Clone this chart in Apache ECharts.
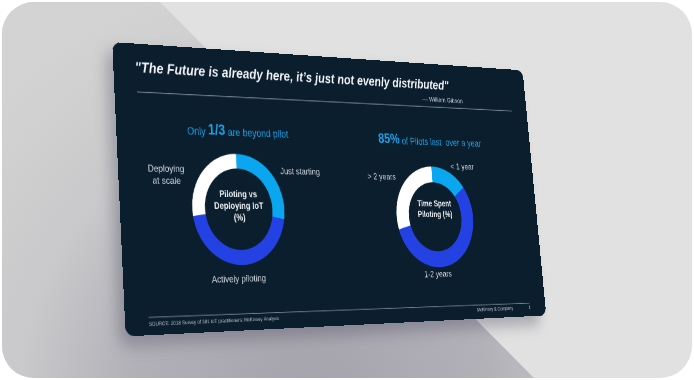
<!DOCTYPE html>
<html>
<head>
<meta charset="utf-8">
<script src="https://cdn.jsdelivr.net/npm/echarts@6.0.0/dist/echarts.min.js"></script>
<style>
  html, body { margin:0; padding:0; width:694px; height:380px; overflow:hidden; background:#ffffff; }
  #frame { position:absolute; left:2px; top:2px; width:690px; height:376px; border-radius:32px; overflow:hidden; background:#e1e1e1; }
  #shade { position:absolute; left:-2px; top:-2px; width:694px; height:380px;
           clip-path: polygon(0 0, 158px 0, 536px 380px, 0 380px);
           background: radial-gradient(circle at 310px 400px, #a4a2ac 0px, #b2b1b8 180px, #c9c9cb 290px, #d3d3d3 430px); }
  #slideShadow, #slide { position:absolute; left:0; top:0; width:700px; height:360px; transform-origin:0 0; border-radius:12px; }
  #slideShadow { background:rgba(60,60,80,0.35); filter:blur(10px); }
  #slide { background:#0b1e2e; overflow:hidden; }
</style>
</head>
<body>
<div id="frame"><div id="shade"></div></div>
<div id="slideShadow"></div>
<div id="slide"></div>
<script>
// ---- data ----
const titleText = '"The Future is already here, it\u2019s just not evenly distributed"';
const quoteAuthor = '\u2014 William Gibson';
const leftHeadline = ['Only ', '1/3', ' are beyond pilot'];
const rightHeadline = ['85%', ' of Pilots last  over a year'];
const leftCenterText = 'Piloting vs\nDeploying IoT\n(%)';
const rightCenterText = 'Time Spent\nPiloting (%)';
const leftCategories = ['Just starting', 'Actively piloting', 'Deploying\nat scale'];
const leftValues = [28, 45, 27];
const rightCategories = ['< 1 year', '1-2 years', '> 2 years'];
const rightValues = [15, 56, 29];
const sourceText = 'SOURCE: 2018 Survey of 381 IoT practitioners; McKinsey Analysis';
const brandText = 'McKinsey & Company';
const pageText = '1';

// ---- layout / style ----
const W = 700, H = 360;
const FONT = '"Liberation Sans", Arial, Helvetica, sans-serif';
const pieColors = ['#0aa7f0', '#2441e3', '#ffffff'];
const slideCorners = [[112.2, 42.0], [522.5, 70.3], [546.3, 315.4], [125.7, 336.4]];

function quadMatrix(p, w, h) {
  const [x0, y0] = p[0], [x1, y1] = p[1], [x2, y2] = p[2], [x3, y3] = p[3];
  const dx1 = x1 - x2, dy1 = y1 - y2, dx2 = x3 - x2, dy2 = y3 - y2;
  const dx3 = x0 - x1 + x2 - x3, dy3 = y0 - y1 + y2 - y3;
  const den = dx1 * dy2 - dx2 * dy1;
  const g = (dx3 * dy2 - dx2 * dy3) / den, hh = (dx1 * dy3 - dx3 * dy1) / den;
  const a = x1 - x0 + g * x1, b = x3 - x0 + hh * x3, c = x0;
  const d = y1 - y0 + g * y1, e = y3 - y0 + hh * y3, f = y0;
  return 'matrix3d(' + [a / w, d / w, 0, g / w, b / h, e / h, 0, hh / h, 0, 0, 1, 0, c, f, 0, 1].join(',') + ')';
}
document.getElementById('slide').style.transform = quadMatrix(slideCorners, W, H);
document.getElementById('slideShadow').style.transform = quadMatrix(slideCorners.map(([x, y]) => [x - 6, y + 9]), W, H);

const leftLabelPos = [
  { x: 244, y: 158, align: 'left' },
  { x: 169, y: 296, align: 'center' },
  { x: 69, y: 165, align: 'center' }
];
const rightLabelPos = [
  { x: 541, y: 147, align: 'left' },
  { x: 501, y: 297, align: 'center' },
  { x: 439, y: 163, align: 'right' }
];

function pieSeries(name, cats, vals, center, radius, pos) {
  return {
    type: 'pie', name: name, center: center, radius: radius,
    startAngle: 90, clockwise: true, silent: true, avoidLabelOverlap: false,
    itemStyle: { borderWidth: 0 },
    label: { show: true, position: 'outside', color: '#d3d8dd', fontSize: 12, lineHeight: 15, fontFamily: FONT },
    labelLine: { show: false },
    labelLayout: function (p) {
      const q = pos[p.dataIndex];
      return { x: q.x, y: q.y, align: q.align, verticalAlign: 'middle' };
    },
    emphasis: { disabled: true },
    data: cats.map((c, i) => ({ name: c, value: vals[i], itemStyle: { color: pieColors[i] } }))
  };
}

const chart = echarts.init(document.getElementById('slide'), null, { renderer: 'canvas', devicePixelRatio: 2, width: W, height: H });
chart.setOption({
  animation: false,
  backgroundColor: 'transparent',
  series: [
    pieSeries('Piloting vs Deploying IoT', leftCategories, leftValues, [175.4, 207.2], [52, 71], leftLabelPos),
    pieSeries('Time Spent Piloting', rightCategories, rightValues, [505, 217.3], [48, 70], rightLabelPos)
  ],
  graphic: [
    { type: 'text', x: 31, y: 31.5, style: { text: titleText, fill: '#f2f4f6', fontSize: 18.5, fontWeight: 'bold', fontStyle: 'italic', fontFamily: FONT, align: 'left', verticalAlign: 'middle' } },
    { type: 'line', shape: { x1: 32, y1: 61.5, x2: 670, y2: 62.5 }, style: { stroke: '#75838f', lineWidth: 1.2 } },
    { type: 'text', x: 575, y: 52, style: { text: quoteAuthor, fill: '#c8ced4', fontSize: 9.5, fontFamily: FONT, align: 'right', verticalAlign: 'middle' } },
    { type: 'text', x: 182, y: 107, style: {
        text: '{a|' + leftHeadline[0] + '}{b|' + leftHeadline[1] + '}{a|' + leftHeadline[2] + '}',
        align: 'center', verticalAlign: 'middle',
        rich: { a: { fontSize: 13.5, fill: '#1ea1e6', fontFamily: FONT, verticalAlign: 'bottom' },
                b: { fontSize: 19, fontWeight: 'bold', fill: '#1ea1e6', fontFamily: FONT, verticalAlign: 'bottom' } } } },
    { type: 'text', x: 508, y: 111, style: {
        text: '{b|' + rightHeadline[0] + '}{a|' + rightHeadline[1] + '}',
        align: 'center', verticalAlign: 'middle',
        rich: { a: { fontSize: 13.5, fill: '#1ea1e6', fontFamily: FONT, verticalAlign: 'bottom' },
                b: { fontSize: 19, fontWeight: 'bold', fill: '#1ea1e6', fontFamily: FONT, verticalAlign: 'bottom' } } } },
    { type: 'text', x: 175.4, y: 204, style: { text: leftCenterText, fill: '#f4f6f8', fontSize: 11.5, lineHeight: 15, fontWeight: 'bold', fontFamily: FONT, align: 'center', verticalAlign: 'middle' } },
    { type: 'text', x: 505, y: 207.5, style: { text: rightCenterText, fill: '#f4f6f8', fontSize: 11.5, lineHeight: 15, fontWeight: 'bold', fontFamily: FONT, align: 'center', verticalAlign: 'middle' } },
    { type: 'line', shape: { x1: 33, y1: 338.7, x2: 669, y2: 341.5 }, style: { stroke: '#7a8894', lineWidth: 1 } },
    { type: 'text', x: 33, y: 347, style: { text: sourceText, fill: '#b8c0c8', fontSize: 6.5, fontFamily: FONT, align: 'left', verticalAlign: 'middle' } },
    { type: 'text', x: 636, y: 348, style: { text: brandText, fill: '#b8c0c8', fontSize: 7, fontFamily: FONT, align: 'right', verticalAlign: 'middle' } },
    { type: 'text', x: 668.5, y: 348, style: { text: pageText, fill: '#c8ced4', fontSize: 7, fontFamily: FONT, align: 'center', verticalAlign: 'middle' } }
  ]
});
</script>
</body>
</html>
